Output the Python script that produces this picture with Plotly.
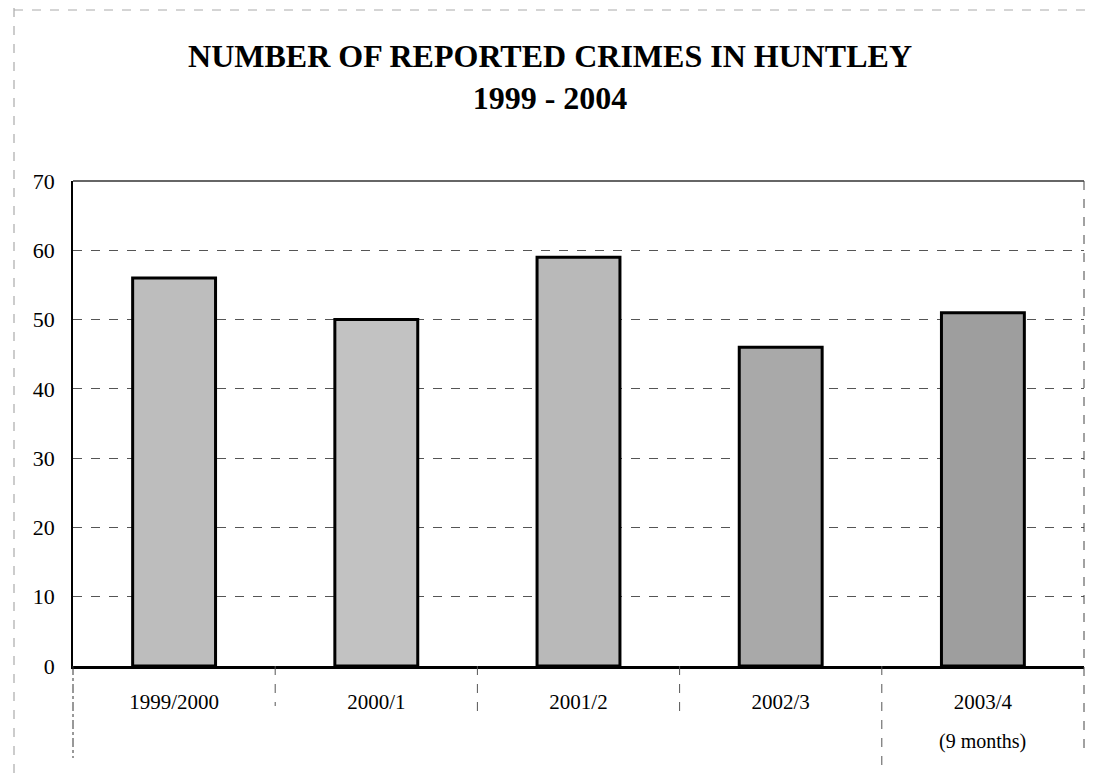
import plotly.graph_objects as go

# ---- data ----
categories = ["1999/2000", "2000/1", "2001/2", "2002/3", "2003/4"]
crimes = [56, 50, 59, 46, 51]
y_ticks = [0, 10, 20, 30, 40, 50, 60, 70]
note_text = "(9 months)"
title_lines = ["NUMBER OF REPORTED CRIMES IN HUNTLEY", "1999 - 2004"]

# ---- styles ----
bar_colors = ["#bdbdbd", "#c2c2c2", "#b9b9b9", "#a9a9a9", "#9e9e9e"]
FONT = "Liberation Serif, Times New Roman, serif"

OFF = 8  # default body margin of the page
W, H = 1098 - OFF, 778 - OFF
L, T = 73 - OFF, 181 - OFF
R = W - (1084 - OFF)
B = H - (666 - OFF)
pw = W - L - R
ph = H - T - B

def py(pix):
    """window pixel y (from top) -> paper y"""
    return (H - B - (pix - OFF)) / ph

def px(pix):
    """window pixel x -> paper x"""
    return ((pix - OFF) - L) / pw

fig = go.Figure()
fig.add_trace(go.Bar(
    x=categories, y=crimes,
    marker=dict(color=bar_colors, line=dict(color="black", width=3)),
    width=0.41,
    hoverinfo="x+y",
))

fig.update_layout(
    width=W, height=H,
    margin=dict(l=L, r=R, t=T, b=B),
    paper_bgcolor="white", plot_bgcolor="white",
    showlegend=False,
    font=dict(family=FONT, color="black"),
    title=dict(
        text="<b>" + "<br>".join(title_lines) + "</b>",
        x=(550 - OFF) / W, xanchor="center", xref="container",
        y=1 - 59 / H, yanchor="top",
        font=dict(family=FONT, size=32, color="black"),
    ),
    xaxis=dict(
        type="category",
        range=[-0.5, len(categories) - 0.5],
        showgrid=False, showline=True, linecolor="black", linewidth=3,
        ticks="", tickfont=dict(family=FONT, size=21, color="black"),
        ticklabelstandoff=15, zeroline=False,
    ),
    yaxis=dict(
        range=[0, 70], tickvals=y_ticks,
        showgrid=True, gridcolor="#555555", gridwidth=1, griddash="dash",
        showline=True, linecolor="black", linewidth=1.5,
        ticks="", tickfont=dict(family=FONT, size=22, color="black"),
        ticklabelstandoff=12, zeroline=False,
    ),
)

shapes = []
# top border of the plot
shapes.append(dict(type="line", xref="paper", yref="paper", x0=0, x1=1,
                   y0=1, y1=1, line=dict(color="#333333", width=1.5)))
# right border of the plot, extending down past the axis
shapes.append(dict(type="line", xref="paper", yref="paper", x0=1, x1=1,
                   y0=1, y1=py(752), line=dict(color="#444444", width=1, dash="dash")))
# left axis extension below the baseline
shapes.append(dict(type="line", xref="paper", yref="paper", x0=0, x1=0,
                   y0=0, y1=py(758), line=dict(color="#333333", width=1, dash="dashdot")))
# category separators below the axis
for i, bottom in zip(range(len(categories) - 1), [706, 712, 712, 765]):
    shapes.append(dict(type="line", xref="x", yref="paper", x0=i + 0.5, x1=i + 0.5,
                       y0=0, y1=py(bottom), line=dict(color="#555555", width=1, dash="dash")))
# faint page border (scan edges)
shapes.append(dict(type="line", xref="paper", yref="paper",
                   x0=px(14), x1=px(14), y0=py(OFF), y1=py(778),
                   line=dict(color="#999999", width=1, dash="dash")))
shapes.append(dict(type="line", xref="paper", yref="paper",
                   x0=px(14), x1=px(1094), y0=py(OFF + 2), y1=py(OFF + 2),
                   line=dict(color="#aaaaaa", width=1, dash="dash")))
fig.update_layout(shapes=shapes)

fig.add_annotation(
    x=categories[-1], xref="x", y=py(741), yref="paper",
    text=note_text, showarrow=False, yanchor="middle",
    font=dict(family=FONT, size=20, color="black"),
)

fig.write_html("out.html")
